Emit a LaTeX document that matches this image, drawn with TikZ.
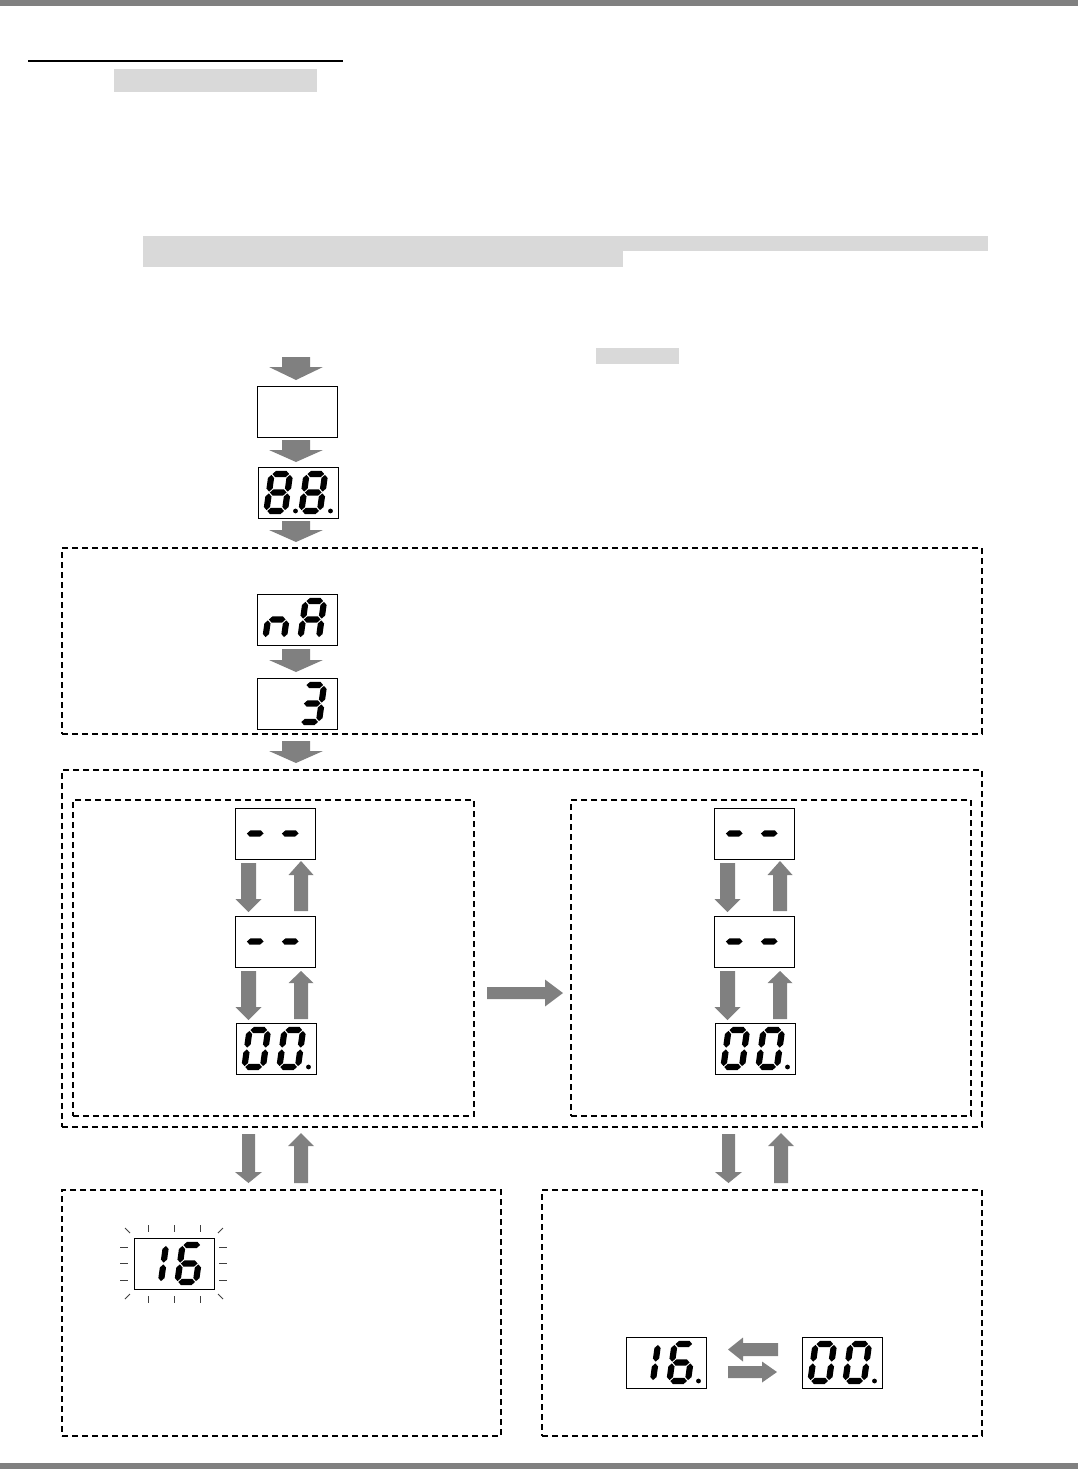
\documentclass[tikz,border=0pt]{standalone}
\definecolor{bargray}{HTML}{808080}
\definecolor{hlgray}{HTML}{D9D9D9}
\definecolor{arrgray}{HTML}{808080}
\tikzset{
  dispbox/.style={draw=black, line width=0.9pt, minimum width=80pt, minimum height=51pt, anchor=north west, inner sep=0pt, outer sep=0pt},
  grpbox/.style={draw=black, line width=1.2pt, dash pattern=on 6pt off 4pt, anchor=north west, inner sep=0pt, outer sep=0pt},
  segfill/.style={fill=black},
  blockarrow/.style={fill=arrgray},
  blinktick/.style={draw=black!75, line width=0.8pt},
}
% half thickness 3.1, gap 0.9
\newcommand\hsegm[3]{\fill[segfill] ({#1+0.9},#3) -- ({#1+4},{#3-3.1}) -- ({#2-4},{#3-3.1}) -- ({#2-0.9},#3) -- ({#2-4},{#3+3.1}) -- ({#1+4},{#3+3.1}) -- cycle;}
\newcommand\vsegm[3]{\fill[segfill] (#1,{#2+0.9}) -- ({#1+3.1},{#2+4}) -- ({#1+3.1},{#3-4}) -- (#1,{#3-0.9}) -- ({#1-3.1},{#3-4}) -- ({#1-3.1},{#2+4}) -- cycle;}
\newcommand\SegA{\hsegm{3}{21.5}{3}}
\newcommand\SegB{\vsegm{21.5}{3}{21.5}}
\newcommand\SegC{\vsegm{21.5}{21.5}{40}}
\newcommand\SegD{\hsegm{3}{21.5}{40}}
\newcommand\SegE{\vsegm{3}{21.5}{40}}
\newcommand\SegF{\vsegm{3}{3}{21.5}}
\newcommand\SegG{\hsegm{3}{21.5}{21.5}}
\newcommand\digitat[3]{%
  \begin{scope}[shift={(#1.north west)}, shift={({11+35*#2},4)}, xslant=0.14]
    \foreach \s in {#3}{\csname Seg\s\endcsname}
  \end{scope}}
\newcommand\dotat[1]{\fill[segfill] (#1.north west) ++(72.5,44) circle (2.4pt);}
\newcommand\gArrD[6]{\fill[blockarrow] ({#1-#4/2},#2) -- ({#1+#4/2},#2) -- ({#1+#4/2},{#3-#6}) -- ({#1+#5/2},{#3-#6}) -- (#1,#3) -- ({#1-#5/2},{#3-#6}) -- ({#1-#4/2},{#3-#6}) -- cycle;}
\newcommand\gArrU[6]{\fill[blockarrow] ({#1-#4/2},#3) -- ({#1+#4/2},#3) -- ({#1+#4/2},{#2+#6}) -- ({#1+#5/2},{#2+#6}) -- (#1,#2) -- ({#1-#5/2},{#2+#6}) -- ({#1-#4/2},{#2+#6}) -- cycle;}
\newcommand\gArrR[6]{\fill[blockarrow] (#2,{#1-#4/2}) -- ({#3-#6},{#1-#4/2}) -- ({#3-#6},{#1-#5/2}) -- (#3,#1) -- ({#3-#6},{#1+#5/2}) -- ({#3-#6},{#1+#4/2}) -- (#2,{#1+#4/2}) -- cycle;}
\newcommand\gArrL[6]{\fill[blockarrow] (#3,{#1-#4/2}) -- ({#2+#6},{#1-#4/2}) -- ({#2+#6},{#1-#5/2}) -- (#2,#1) -- ({#2+#6},{#1+#5/2}) -- ({#2+#6},{#1+#4/2}) -- (#3,{#1+#4/2}) -- cycle;}
\begin{document}
\begin{tikzpicture}[x=1pt,y=-1pt]
\useasboundingbox (0,0) rectangle (1078,1469);
% header
\fill[bargray] (0,0) rectangle (1078,6);
\fill[bargray] (0,1463) rectangle (1078,1469);
\draw[line width=2pt] (28,61) -- (343,61);
\fill[hlgray] (114,69) rectangle (317,92);
\fill[hlgray] (143,236) rectangle (988,251);
\fill[hlgray] (143,250.5) rectangle (623,267);
\fill[hlgray] (596,348) rectangle (679,364);
% group boxes
\node[grpbox, minimum width=920pt, minimum height=186pt] (g1) at (62,548) {};
\node[grpbox, minimum width=920pt, minimum height=357pt] (g2) at (62,770) {};
\node[grpbox, minimum width=401pt, minimum height=316pt] (g2l) at (73,800) {};
\node[grpbox, minimum width=400pt, minimum height=316pt] (g2r) at (571,800) {};
\node[grpbox, minimum width=439pt, minimum height=246pt] (g3l) at (62,1190) {};
\node[grpbox, minimum width=440pt, minimum height=246pt] (g3r) at (542,1190) {};
% displays
\node[dispbox] (start) at (257,386) {};
\node[dispbox] (d88) at (258,467) {};
\node[dispbox] (dnA) at (257,594) {};
\node[dispbox] (d3) at (257,678) {};
\node[dispbox] (l1) at (235,808) {};
\node[dispbox] (l2) at (235,916) {};
\node[dispbox] (l3) at (236,1023) {};
\node[dispbox] (r1) at (714,808) {};
\node[dispbox] (r2) at (714,916) {};
\node[dispbox] (r3) at (715,1023) {};
\node[dispbox] (b16) at (134,1238) {};
\node[dispbox] (s16) at (626,1337) {};
\node[dispbox] (s00) at (802,1337) {};
% digits
\digitat{d88}{0}{A,B,C,D,E,F,G}\digitat{d88}{1}{A,B,C,D,E,F,G}\dotat{d88}
\fill[segfill] (d88.north west) ++(37.5,44) circle (2.4pt);
\digitat{dnA}{0}{C,E,G}\digitat{dnA}{1}{A,B,C,E,F,G}
\digitat{d3}{1}{A,B,C,D,G}
\foreach \n in {l1,l2,r1,r2}{\digitat{\n}{0}{G}\digitat{\n}{1}{G}}
\foreach \n in {l3,r3,s00}{\digitat{\n}{0}{A,B,C,D,E,F}\digitat{\n}{1}{A,B,C,D,E,F}\dotat{\n}}
\digitat{b16}{0}{B,C}\digitat{b16}{1}{A,C,D,E,F,G}
\digitat{s16}{0}{B,C}\digitat{s16}{1}{A,C,D,E,F,G}\dotat{s16}
% blink ticks
\foreach \x in {148,174,200}{\draw[blinktick] (\x,1225) -- (\x,1232); \draw[blinktick] (\x,1296) -- (\x,1303);}
\foreach \y in {1247,1263,1280}{\draw[blinktick] (120,\y) -- (128,\y); \draw[blinktick] (219,\y) -- (227,\y);}
\draw[blinktick] (125,1228) -- (130,1233);
\draw[blinktick] (223,1228) -- (218,1233);
\draw[blinktick] (125,1299) -- (130,1294);
\draw[blinktick] (223,1299) -- (218,1294);
% flow arrows
\gArrD{296}{357}{380}{28}{54}{13}
\gArrD{296}{440}{462}{28}{54}{12}
\gArrD{296}{521}{542}{28}{54}{12}
\gArrD{296}{649}{672}{28}{54}{12}
\gArrD{296}{741}{763}{28}{54}{12}
% column arrows
\foreach \dx in {0,479}{
  \gArrD{248.5+\dx}{863}{912}{15}{26}{13}
  \gArrU{301+\dx}{861}{911}{14}{25}{14}
  \gArrD{248.5+\dx}{971}{1020}{15}{26}{13}
  \gArrU{301+\dx}{971}{1019}{14}{25}{12}
}
% arrows to bottom groups
\gArrD{248.5}{1134}{1183}{13}{27}{11}
\gArrU{301}{1133}{1183}{14}{26}{13}
\gArrD{728.5}{1134}{1183}{13}{27}{11}
\gArrU{781}{1133}{1183}{14}{26}{13}
% middle arrow
\gArrR{993}{487}{563}{12}{27}{18}
% swap arrows
\gArrL{1349.5}{728}{778}{13}{24}{15}
\gArrR{1372}{728}{777}{12}{21}{15}
\end{tikzpicture}
\end{document}
